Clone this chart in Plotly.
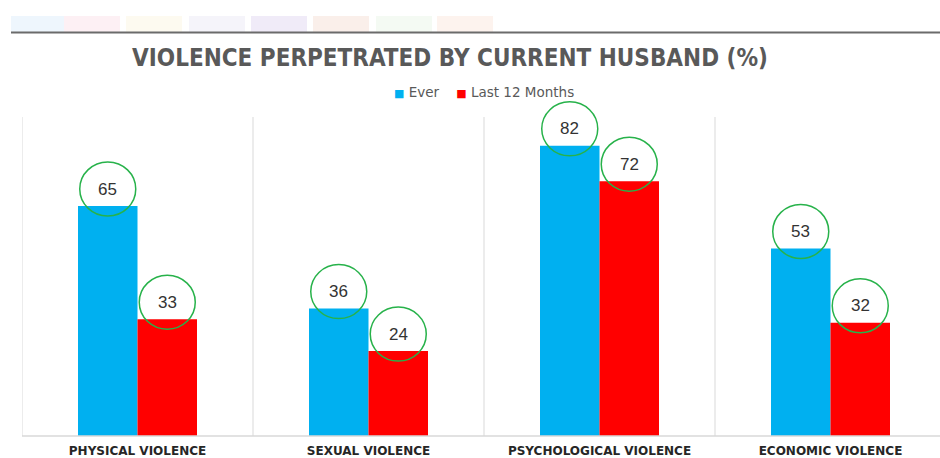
import plotly.graph_objects as go

categories = ["PHYSICAL VIOLENCE", "SEXUAL VIOLENCE", "PSYCHOLOGICAL VIOLENCE", "ECONOMIC VIOLENCE"]
ever = [65, 36, 82, 53]
last12 = [33, 24, 72, 32]
series_names = ["Ever", "Last 12 Months"]
title_text = "VIOLENCE PERPETRATED BY CURRENT HUSBAND (%)"

BLUE = "#00B0F0"
RED = "#FF0000"
GREEN = "#27B24A"
GRID = "#D9D9D9"

W, H = 940, 458
ML, MR, MT, MB = 22, 0, 95, 22
PW, PH = W - ML - MR, H - MT - MB
PX_PER_UNIT = 230 / 65.0
CAT_PX = 231.0

bar_w = 59.5 / CAT_PX
xs = list(range(len(categories)))

def px_x(px):
    return (px - ML) / PW

def px_y(py):
    return (H - MB - py) / PH

fig = go.Figure()
fig.add_trace(go.Bar(x=xs, y=ever, name=series_names[0], marker=dict(color=BLUE, line=dict(width=0)),
                     width=bar_w, offset=-bar_w, hoverinfo="skip", showlegend=False))
fig.add_trace(go.Bar(x=xs, y=last12, name=series_names[1], marker=dict(color=RED, line=dict(width=0)),
                     width=bar_w, offset=0, hoverinfo="skip", showlegend=False))

shapes = []
annotations = []
# category separators
for i in range(len(categories)):
    shapes.append(dict(type="line", xref="x", yref="paper", x0=i - 0.5, x1=i - 0.5, y0=0, y1=px_y(117),
                       line=dict(color=GRID, width=1), layer="below"))
# baseline
shapes.append(dict(type="line", xref="paper", yref="paper", x0=0, x1=1, y0=0, y1=0,
                   line=dict(color=GRID, width=1.5)))

# circles & labels
for vals, off in ((ever, -bar_w / 2), (last12, bar_w / 2)):
    for i, v in enumerate(vals):
        cx = i + off
        shapes.append(dict(type="circle", xref="x", yref="y", xsizemode="pixel", ysizemode="pixel",
                           xanchor=cx, yanchor=v, x0=-28, x1=28, y0=-10, y1=44,
                           line=dict(color=GREEN, width=1.5)))
        annotations.append(dict(x=cx, y=v, xref="x", yref="y", text=str(v), showarrow=False,
                                yshift=17, font=dict(family="Liberation Sans, Arial, sans-serif", size=17, color="#333333")))

# custom compact legend
legend_html = ("<span style='color:%s;font-size:11px'>■</span> %s    <span style='color:%s;font-size:11px'>■</span> %s"
               % (BLUE, series_names[0], RED, series_names[1]))
annotations.append(dict(x=px_x(484), y=px_y(92), xref="paper", yref="paper", text=legend_html,
                        showarrow=False, xanchor="center", yanchor="middle",
                        font=dict(family="DejaVu Sans, sans-serif", size=13.5, color="#595959")))

# decorative header stripes
stripe_colors = ["#EEF6FD", "#FDF0F4", "#FDFAF0", "#F5F4FA", "#F0EBF8", "#FAEFEA", "#F4FAF3", "#FDF3EE"]
stripe_left = [11, 64, 126, 189, 251, 313, 376, 437]
for c, x0 in zip(stripe_colors, stripe_left):
    shapes.append(dict(type="rect", xref="paper", yref="paper", x0=px_x(x0), x1=px_x(x0 + 56),
                       y0=px_y(32), y1=px_y(16), line=dict(width=0), fillcolor=c, layer="below"))
shapes.append(dict(type="line", xref="paper", yref="paper", x0=px_x(11), x1=px_x(940),
                   y0=px_y(32.5), y1=px_y(32.5), line=dict(color="#6B6B6B", width=2)))

fig.update_layout(
    width=W, height=H,
    margin=dict(l=ML, r=MR, t=MT, b=MB),
    paper_bgcolor="white", plot_bgcolor="white",
    barmode="overlay",
    showlegend=False,
    title=dict(text="<b>" + title_text + "</b>", x=450 / W, xanchor="center",
               y=1 - 58 / H, yanchor="middle",
               font=dict(family="DejaVu Sans Condensed, DejaVu Sans, sans-serif", size=24, color="#595959")),
    xaxis=dict(range=[-0.5, -0.5 + PW / CAT_PX], tickvals=xs, ticktext=["<b>" + c + "</b>" for c in categories],
               showgrid=False, zeroline=False, showline=False, ticks="", ticklabelstandoff=6,
               tickfont=dict(family="DejaVu Sans, sans-serif", size=12, color="#262626")),
    yaxis=dict(range=[0, PH / PX_PER_UNIT], showgrid=False, zeroline=False, showticklabels=False, showline=False),
    shapes=shapes,
    annotations=annotations,
)

fig.write_html("out.html", config={"displayModeBar": False},
               post_script="document.body.style.margin='0';document.body.style.overflow='hidden';")
